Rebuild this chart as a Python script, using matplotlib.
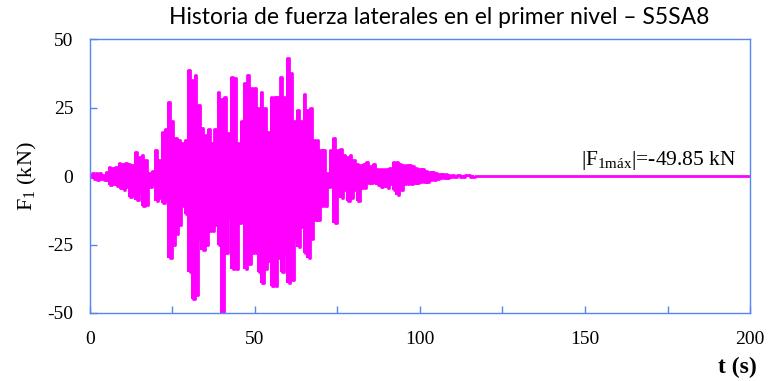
import matplotlib
matplotlib.use("Agg")
from matplotlib import pyplot as plt

# peak values, one pair per second (max, then min half a second later)
t_env = [0, 1, 2, 3, 4, 5, 6, 7, 8, 9, 10, 11, 12, 13, 14, 15, 16, 17, 18, 19,
         20, 21, 22, 23, 24, 25, 26, 27, 28, 29, 30, 31, 32, 33, 34, 35, 36, 37, 38, 39,
         40, 41, 42, 43, 44, 45, 46, 47, 48, 49, 50, 51, 52, 53, 54, 55, 56, 57, 58, 59,
         60, 61, 62, 63, 64, 65, 66, 67, 68, 69, 70, 71, 72, 73, 74, 75, 76, 77, 78, 79,
         80, 81, 82, 83, 84, 85, 86, 87, 88, 89, 90, 91, 92, 93, 94, 95, 96, 97, 98, 99,
         100, 101, 102, 103, 104, 105, 106, 107, 108, 109, 110, 112, 115, 118]
f_max = [0.5, 1.2, 1.0, 1.2, 0.5, 1.5, 3.4, 3.0, 3.4, 4.7, 4.5, 4.7, 4.5, 4.0, 8.9, 7.0, 7.7, 6.0, 1.0, 2.0,
         9.5, 6.0, 16.0, 17.0, 27.0, 20.0, 14.0, 13.0, 12.0, 13.0, 38.7, 35.0, 37.0, 26.0, 17.5, 15.0, 17.0, 12.0, 17.0, 30.6,
         28.0, 29.0, 15.7, 36.0, 35.7, 12.0, 20.0, 34.0, 37.0, 32.0, 32.0, 25.0, 30.6, 25.0, 16.0, 29.0, 29.0, 29.0, 36.0, 29.0,
         43.0, 37.5, 20.0, 24.0, 20.0, 30.0, 24.0, 25.0, 13.0, 13.0, 9.5, 9.5, 1.0, 9.5, 14.0, 9.5, 10.0, 7.6, 7.0, 7.6,
         6.0, 4.5, 4.0, 4.5, 5.0, 3.5, 4.5, 2.5, 2.5, 2.5, 2.5, 3.0, 5.0, 5.0, 4.5, 4.0, 4.0, 4.0, 3.5, 3.0,
         2.5, 2.5, 2.0, 1.5, 1.5, 1.2, 0.8, 0.7, 0.6, 0.5, 0.4, 0.3, 0.2, 0.1]
f_min = [-0.5, -1.0, -1.5, -1.2, -1.5, -1.5, -3.3, -3.0, -3.5, -4.5, -5.1, -4.0, -7.5, -7.0, -8.8, -6.0, -11.0, -10.5, -4.0, -3.0,
         -9.0, -8.0, -10.0, -8.0, -30.0, -25.0, -21.0, -18.0, -11.0, -14.0, -35.0, -45.0, -43.5, -23.0, -27.0, -25.0, -20.0, -20.0, -18.0, -25.0,
         -49.85, -28.0, -15.0, -34.0, -34.0, -17.0, -17.0, -34.0, -32.0, -28.0, -28.0, -35.0, -39.0, -34.0, -31.0, -40.0, -40.0, -30.0, -35.0, -29.0,
         -39.0, -38.0, -23.0, -26.0, -18.5, -28.0, -30.0, -23.0, -16.0, -16.0, -11.0, -11.0, -4.0, -4.0, -17.0, -5.0, -8.0, -5.0, -9.0, -8.0,
         -5.0, -9.0, -4.5, -4.5, -2.5, -2.5, -2.0, -3.3, -4.0, -3.3, -4.5, -3.0, -5.0, -7.0, -5.0, -3.0, -3.0, -3.0, -2.5, -2.5,
         -2.0, -2.0, -2.0, -1.5, -1.5, -1.2, -0.8, -0.7, -0.6, -0.5, -0.4, -0.3, -0.2, -0.1]
t_tail = [120, 200]
f_tail = [0, 0]

t = []
f = []
for ti, hi, lo in zip(t_env, f_max, f_min):
    t += [ti, ti + 0.5]
    f += [hi, lo]
t += t_tail
f += f_tail

plt.rcParams["axes.unicode_minus"] = False
blue = "#5585f0"
mag = "#ff00ff"
serif = "Liberation Serif"

fig = plt.figure(figsize=(7.68, 3.81), dpi=100)
ax = fig.add_axes([0.117, 0.1785, 0.8596, 0.719])
# dense signal drawn as a solid band between the peaks, plus the spikes on top
ax.fill_between(t_env, f_min, f_max, step="mid", color=mag, lw=0)
ax.plot(t, f, color=mag, lw=2.0, drawstyle="steps-mid")

ax.set_xlim(0, 200)
ax.set_ylim(-50, 50)
ax.set_xticks([0, 50, 100, 150, 200])
ax.set_xticks([25, 75, 125, 175], minor=True)
ax.set_yticks([-50, -25, 0, 25, 50])
for s in ax.spines.values():
    s.set_color(blue)
    s.set_linewidth(1.0)
ax.tick_params(axis="both", which="both", direction="in", color=blue, length=5, width=1)
ax.tick_params(axis="x", pad=13)
ax.tick_params(axis="y", pad=12)
for lab in ax.get_xticklabels() + ax.get_yticklabels():
    lab.set_fontfamily(serif)
    lab.set_fontsize(14)

ax.set_ylabel("F$_\\mathregular{1}$ (kN)", fontsize=16, family=serif, labelpad=6)
ax.text(196, 1.5, "|F$_\\mathregular{1máx}$|=-49.85 kN", fontsize=15.5, family=serif,
        ha="right", va="bottom")

fig.text(0.572, 0.955, "Historia de fuerza laterales en el primer nivel – S5SA8",
         ha="center", va="center", fontsize=16.5, family="Lato")
fig.text(0.986, 0.035, "t (s)", ha="right", va="center", fontsize=17,
         family=serif, fontweight="bold")

fig.savefig("out.png", dpi=100)
